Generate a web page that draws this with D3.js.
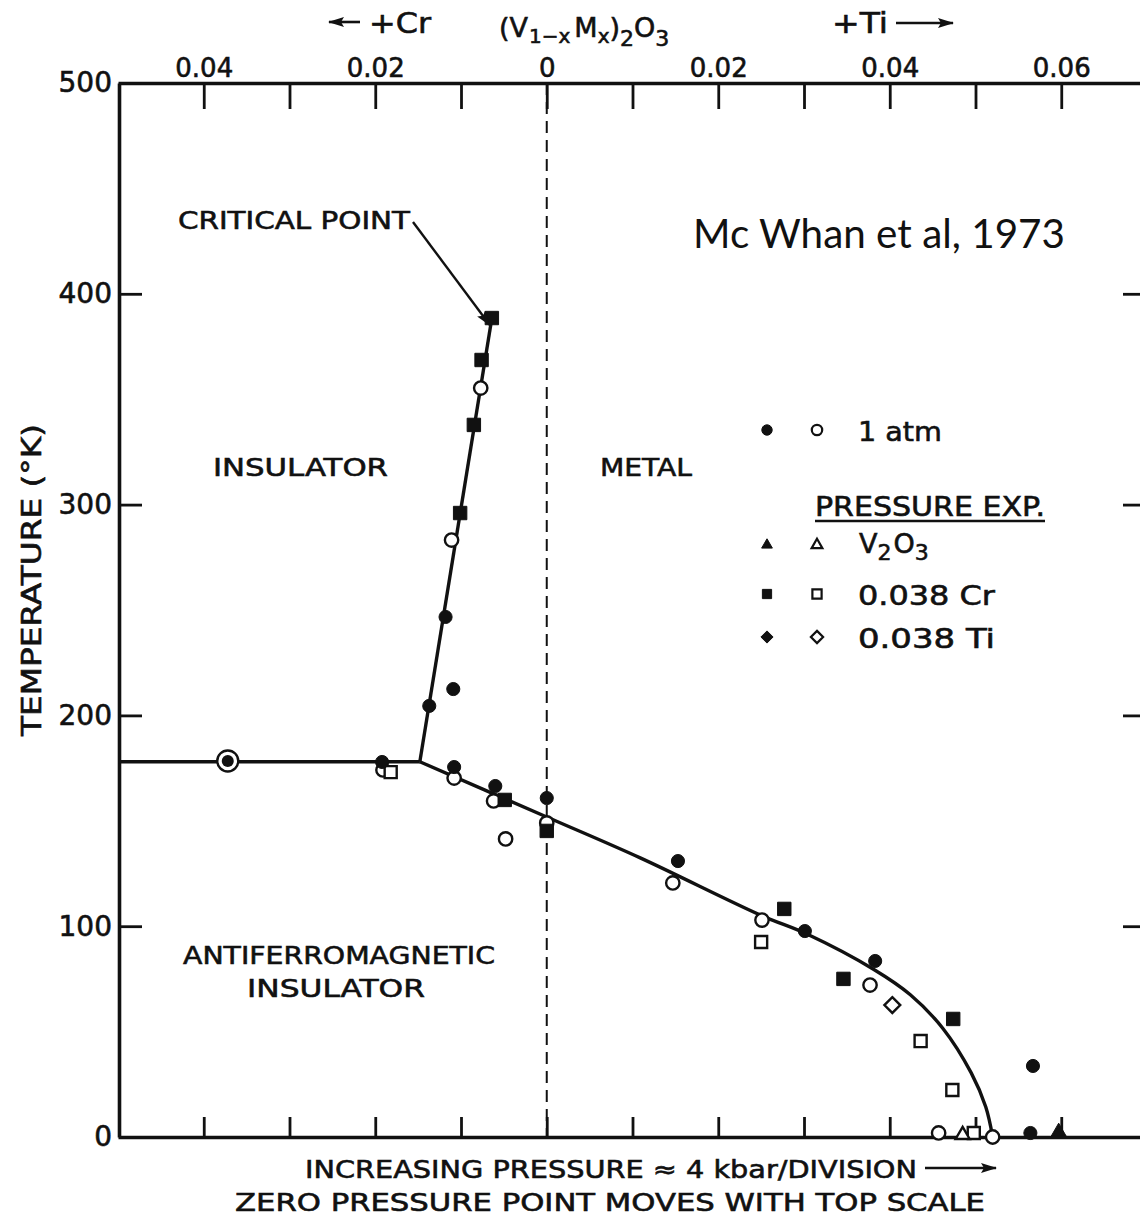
<!DOCTYPE html>
<html>
<head>
<meta charset="utf-8">
<script src="https://cdn.jsdelivr.net/npm/d3@7"></script>
<style>
  html, body { margin: 0; padding: 0; background: #fff; }
  svg { display: block; }
  text { font-family: "DejaVu Sans", sans-serif; fill: #111; stroke: #111; stroke-width: 0.6px; }
  text.plain { stroke: none; }
</style>
</head>
<body>
<svg id="chart" width="1140" height="1217"></svg>
<script>
// Composition axis: negative = Cr doping, positive = Ti doping
const compTicks = [-0.04, -0.03, -0.02, -0.01, 0, 0.01, 0.02, 0.03, 0.04, 0.05, 0.06];
const compLabelValues = [-0.04, -0.02, 0, 0.02, 0.04, 0.06];
const compLabels = ["0.04", "0.02", "0", "0.02", "0.04", "0.06"];
const tempTicks = [0, 100, 200, 300, 400, 500];
const sideTicks = [100, 200, 300, 400];

// Phase boundaries [composition, temperature K]
const boundaryFlat = [[-0.05, 178], [-0.0148, 178]];
const boundaryCritical = [[-0.0148, 178], [-0.0064, 388.5]];
const boundaryAF = [[-0.0148, 178], [0, 151.8], [0.0109, 132.4], [0.0249, 105.3], [0.0304, 96.2],
  [0.0381, 79.6], [0.0424, 67.5], [0.0462, 51.5], [0.0495, 30.4], [0.0512, 14.2], [0.0520, 0]];

// Measurements [composition, temperature K]
const atmFilled = [[-0.0192, 177.9], [-0.0137, 204.5], [-0.0118, 246.7], [-0.0109, 212.5],
  [-0.0108, 175.5], [-0.0060, 166.5], [0, 160.8], [0.0153, 130.9], [0.0301, 97.7],
  [0.0383, 83.5], [0.0567, 33.7], [0.0564, 1.9]];
const atmOpen = [[-0.0191, 174.1], [-0.0111, 283.2], [-0.0077, 355.3], [-0.0108, 170.3],
  [-0.0062, 159.4], [-0.0048, 141.4], [0, 149.0], [0.0147, 120.5], [0.0251, 102.9],
  [0.0377, 72.1], [0.0457, 1.9], [0.0520, 0]];
const atmCircled = [[-0.0372, 178.4]];
const v2o3Filled = [[0.0597, 2.4]];
const v2o3Open = [[0.0485, 1.0]];
const crFilled = [[-0.0101, 296.0], [-0.0085, 337.8], [-0.0076, 368.6], [-0.0064, 388.5],
  [-0.0049, 159.9], [0, 145.2], [0.0277, 108.2], [0.0346, 75.0], [0.0474, 56.0]];
const crOpen = [[-0.0182, 173.1], [0.0250, 92.5], [0.0436, 45.5], [0.0473, 22.3], [0.0498, 1.9]];
const tiOpen = [[0.0403, 62.6]];

const legendRows = [
  { shape: "circle", label: "1 atm" },
  { shape: "triangle", label: "V2O3" },
  { shape: "square", label: "0.038 Cr" },
  { shape: "diamond", label: "0.038 Ti" }
];

const svg = d3.select("#chart");
const x = d3.scaleLinear().domain([-0.05, 0.07]).range([118, 1147]);
const y = d3.scaleLinear().domain([0, 500]).range([1137, 83]);

// arrowhead
svg.append("defs").append("marker")
  .attr("id", "head").attr("viewBox", "0 0 16 10")
  .attr("refX", 15).attr("refY", 5)
  .attr("markerWidth", 16).attr("markerHeight", 10)
  .attr("markerUnits", "userSpaceOnUse").attr("orient", "auto")
  .append("path").attr("d", "M0,0 L16,5 L0,10 L3,5 Z").attr("fill", "#111");

function styleAxis(g, width) {
  g.selectAll(".domain").attr("stroke", "#111").attr("stroke-width", width);
  g.selectAll(".tick line").attr("stroke", "#111").attr("stroke-width", 2.8);
  g.selectAll(".tick text").style("font-family", "DejaVu Sans, sans-serif")
    .attr("fill", "#111").attr("stroke", "#111").attr("stroke-width", 0.6);
}

// top composition axis
const topAxis = svg.append("g").attr("transform", `translate(0,${y(500)})`)
  .call(d3.axisTop(x).tickValues(compTicks).tickSizeInner(-26).tickSizeOuter(0).tickPadding(6)
    .tickFormat(d => {
      const i = compLabelValues.findIndex(v => Math.abs(v - d) < 1e-9);
      return i >= 0 ? compLabels[i] : "";
    }));
styleAxis(topAxis, 3.6);
topAxis.selectAll(".tick text").attr("font-size", 26);

// bottom axis
const botAxis = svg.append("g").attr("transform", `translate(0,${y(0)})`)
  .call(d3.axisBottom(x).tickValues(compTicks).tickSizeInner(-20).tickSizeOuter(0).tickFormat(""));
styleAxis(botAxis, 3.6);

// left temperature axis
const leftAxis = svg.append("g").attr("transform", `translate(${x(-0.05) + 1},0)`)
  .call(d3.axisLeft(y).tickValues(tempTicks).tickSizeInner(-23).tickSizeOuter(0).tickPadding(7));
styleAxis(leftAxis, 3.6);
leftAxis.selectAll(".tick text").attr("font-size", 28);

// right axis
const rightAxis = svg.append("g").attr("transform", `translate(${x(0.07)},0)`)
  .call(d3.axisRight(y).tickValues(sideTicks).tickSizeInner(-24).tickSizeOuter(0).tickFormat(""));
styleAxis(rightAxis, 3.6);

// zero-pressure reference
svg.append("line")
  .attr("x1", x(0)).attr("x2", x(0)).attr("y1", y(500)).attr("y2", y(0))
  .attr("stroke", "#111").attr("stroke-width", 2).attr("stroke-dasharray", "12,7");

// phase boundaries
const line = d3.line().x(d => x(d[0])).y(d => y(d[1]));
const curve = d3.line().x(d => x(d[0])).y(d => y(d[1])).curve(d3.curveCatmullRom.alpha(0.5));
[[boundaryFlat, line], [boundaryCritical, line], [boundaryAF, curve]].forEach(([data, gen]) => {
  svg.append("path").attr("d", gen(data)).attr("fill", "none")
    .attr("stroke", "#111").attr("stroke-width", 3.4).attr("stroke-linejoin", "round");
});

// symbol drawing
const sym = {
  circle: d3.symbolCircle, square: d3.symbolSquare,
  triangle: d3.symbolTriangle, diamond: d3.symbolDiamond2
};
function drawPoints(data, shape, filled, size) {
  svg.append("g").selectAll("path").data(data).join("path")
    .attr("transform", d => `translate(${x(d[0])},${y(d[1])})`)
    .attr("d", d3.symbol(sym[shape], size))
    .attr("fill", filled ? "#111" : "#fff")
    .attr("stroke", "#111").attr("stroke-width", filled ? 1 : 2.4);
}
drawPoints(atmOpen, "circle", false, 140);
drawPoints(crOpen, "square", false, 145);
drawPoints(v2o3Open, "triangle", false, 85);
drawPoints(tiOpen, "diamond", false, 160);
drawPoints(atmFilled, "circle", true, 135);
drawPoints(crFilled, "square", true, 180);
drawPoints(v2o3Filled, "triangle", true, 100);
atmCircled.forEach(d => {
  svg.append("circle").attr("cx", x(d[0])).attr("cy", y(d[1])).attr("r", 10.5)
    .attr("fill", "#fff").attr("stroke", "#111").attr("stroke-width", 2.4);
  svg.append("circle").attr("cx", x(d[0])).attr("cy", y(d[1])).attr("r", 6).attr("fill", "#111");
});

// text helper
function label(txt, tx, ty, size, width, opts = {}) {
  const t = svg.append("text").attr("x", tx).attr("y", ty).attr("font-size", size).text(txt);
  if (width) t.attr("textLength", width).attr("lengthAdjust", "spacingAndGlyphs");
  if (opts.anchor) t.attr("text-anchor", opts.anchor);
  if (opts.family) t.style("font-family", opts.family);
  if (opts.plain) t.attr("class", "plain");
  return t;
}

// header
label("+Cr", 369, 33, 28, 62);
svg.append("line").attr("x1", 360).attr("x2", 329).attr("y1", 22).attr("y2", 22)
  .attr("stroke", "#111").attr("stroke-width", 2.6).attr("marker-end", "url(#head)");
label("+Ti", 832, 33, 28, 56);
svg.append("line").attr("x1", 896).attr("x2", 953).attr("y1", 23).attr("y2", 23)
  .attr("stroke", "#111").attr("stroke-width", 2.6).attr("marker-end", "url(#head)");

const formula = svg.append("text").attr("x", 499).attr("y", 37).attr("font-size", 27);
formula.append("tspan").text("(V");
formula.append("tspan").attr("font-size", 20).attr("dy", 6).attr("dx", 1).text("1−x");
formula.append("tspan").attr("dy", -6).attr("dx", 4).text("M");
formula.append("tspan").attr("font-size", 20).attr("dy", 6).text("x");
formula.append("tspan").attr("dy", -6).text(")");
formula.append("tspan").attr("font-size", 22).attr("dy", 9).text("2");
formula.append("tspan").attr("dy", -9).text("O");
formula.append("tspan").attr("font-size", 22).attr("dy", 9).text("3");

// axis title
svg.append("text").attr("transform", "translate(41,580) rotate(-90)")
  .attr("text-anchor", "middle").attr("font-size", 26)
  .attr("textLength", 312).attr("lengthAdjust", "spacingAndGlyphs")
  .text("TEMPERATURE (°K)");

// annotations
label("CRITICAL POINT", 178, 229, 25, 232);
svg.append("line").attr("x1", 413).attr("y1", 222).attr("x2", x(-0.0066)).attr("y2", y(385))
  .attr("stroke", "#111").attr("stroke-width", 2.4).attr("marker-end", "url(#head)");
label("Mc Whan et al, 1973", 693, 248, 40, 372, { family: "Lato, 'Open Sans', sans-serif", plain: true });
label("INSULATOR", 213, 476, 25, 175);
label("METAL", 600, 476, 25, 92);
label("ANTIFERROMAGNETIC", 183, 964, 25, 312);
label("INSULATOR", 247, 997, 25, 178);

// legend
const legendY = [430, 545, 594, 637];
legendRows.forEach((r, i) => {
  const size = r.shape === "triangle" ? 50 : r.shape === "diamond" ? 95 : 85;
  [[767, true], [817, false]].forEach(([lx, filled]) => {
    svg.append("path").attr("transform", `translate(${lx},${legendY[i]})`)
      .attr("d", d3.symbol(sym[r.shape], size))
      .attr("fill", filled ? "#111" : "#fff")
      .attr("stroke", "#111").attr("stroke-width", filled ? 1 : 2.2);
  });
});
label("1 atm", 858, 441, 27, 84);
label("PRESSURE EXP.", 815, 516, 26, 230);
svg.append("line").attr("x1", 815).attr("x2", 1045).attr("y1", 521).attr("y2", 521)
  .attr("stroke", "#111").attr("stroke-width", 2.4);
const v2o3 = svg.append("text").attr("x", 859).attr("y", 553).attr("font-size", 27);
v2o3.append("tspan").text("V");
v2o3.append("tspan").attr("font-size", 22).attr("dy", 7).text("2");
v2o3.append("tspan").attr("dy", -7).attr("dx", 2).text("O");
v2o3.append("tspan").attr("font-size", 22).attr("dy", 7).text("3");
label("0.038 Cr", 858, 605, 27, 137);
label("0.038 Ti", 858, 648, 27, 137);

// footer
label("INCREASING PRESSURE ≈ 4 kbar/DIVISION", 305, 1178, 25, 612);
svg.append("line").attr("x1", 925).attr("x2", 996).attr("y1", 1168).attr("y2", 1168)
  .attr("stroke", "#111").attr("stroke-width", 2.6).attr("marker-end", "url(#head)");
label("ZERO PRESSURE POINT MOVES WITH TOP SCALE", 235, 1211, 25, 750);
</script>
</body>
</html>
